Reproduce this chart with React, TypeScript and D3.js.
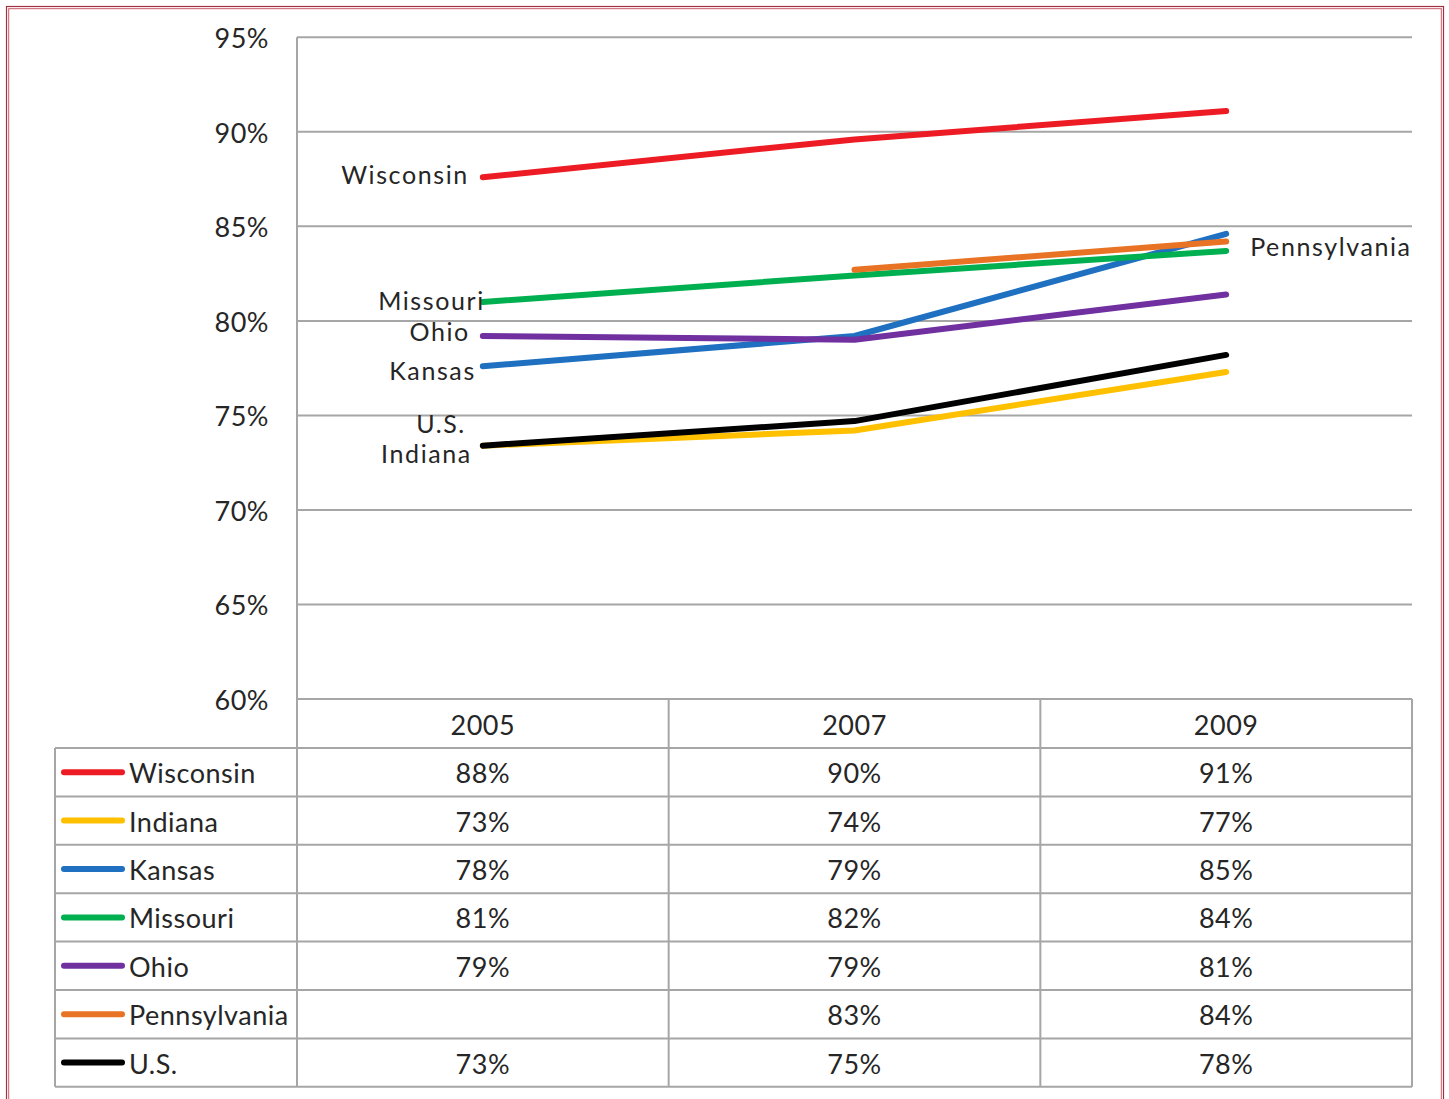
import React from "react";
import * as d3 from "d3";

const years = ["2005", "2007", "2009"];
const seriesNames = ["Wisconsin", "Indiana", "Kansas", "Missouri", "Ohio", "Pennsylvania", "U.S."];
const wisconsin = [87.6, 89.6, 91.1];
const indiana = [73.4, 74.2, 77.3];
const kansas = [77.6, 79.2, 84.6];
const missouri = [81.0, 82.4, 83.7];
const ohio = [79.2, 79.0, 81.4];
const pennsylvania: (number | null)[] = [null, 82.7, 84.2];
const usa = [73.4, 74.7, 78.2];
const yTicks = [60, 65, 70, 75, 80, 85, 90, 95];

const seriesValues: (number | null)[][] = [wisconsin, indiana, kansas, missouri, ohio, pennsylvania, usa];
const seriesColors = ["#ed1c24", "#ffc000", "#1f70c1", "#00b050", "#7030a0", "#e87324", "#000000"];

// label layout (offsets in px relative to the labelled point)
const labelLayout: { idx: number; dx: number; dy: number; anchor: string }[] = [
  { idx: 0, dx: -14, dy: -3, anchor: "end" },
  { idx: 1, dx: -11, dy: 7, anchor: "end" },
  { idx: 2, dx: -7, dy: 4, anchor: "end" },
  { idx: 3, dx: 2, dy: -2, anchor: "end" },
  { idx: 4, dx: -13, dy: -5, anchor: "end" },
  { idx: 5, dx: 24, dy: 5, anchor: "start" },
  { idx: 6, dx: -17, dy: -23, anchor: "end" },
];

const W = 1449;
const H = 1099;
const FONT = "Lato, 'Open Sans', sans-serif";

export default function App() {
  const plotLeft = 297;
  const plotRight = 1412;
  const tableLeft = 55;
  const y = d3.scaleLinear().domain([60, 95]).range([699, 37.3]);
  const x = d3.scaleBand().domain(years).range([plotLeft, plotRight]);
  const cx = (yr: string) => (x(yr) as number) + x.bandwidth() / 2;

  const headerTop = y(60);
  const headerBottom = 748;
  const rowH = 48.4;
  const rowY = (i: number) => headerBottom + i * rowH;
  const tableBottom = rowY(seriesNames.length);

  const line = d3
    .line<{ yr: string; v: number | null }>()
    .defined((d) => d.v != null)
    .x((d) => cx(d.yr))
    .y((d) => y(d.v as number));

  const grid = "#a6a6a6";
  const textColor = "#262626";

  return (
    <svg width={W} height={H} style={{ position: "absolute", left: 0, top: 0, background: "#fff" }}>
      {/* border */}
      <rect x={6.5} y={6.5} width={1437} height={1110} fill="none" stroke="#a3303f" strokeWidth={1.2} />
      <rect x={8.7} y={8.7} width={1432.6} height={1110} fill="none" stroke="#c85a68" strokeWidth={1} />

      {/* gridlines */}
      {yTicks.map((t) => (
        <g key={t}>
          {t !== 60 && (
            <line x1={plotLeft} x2={plotRight} y1={y(t)} y2={y(t)} stroke={grid} strokeWidth={2} />
          )}
          <text
            x={269}
            y={y(t) + 0.5}
            textAnchor="end"
            dominantBaseline="central"
            fontFamily={FONT}
            fontSize={27}
            fill={textColor}
            letterSpacing={0.5}
          >
            {t}%
          </text>
        </g>
      ))}

      {/* axis line */}
      <line x1={plotLeft} x2={plotLeft} y1={y(95)} y2={tableBottom} stroke={grid} strokeWidth={2} />

      {/* table */}
      <line x1={plotLeft} x2={plotRight} y1={headerTop} y2={headerTop} stroke={grid} strokeWidth={2} />
      {seriesNames.map((_, i) => (
        <line key={"r" + i} x1={tableLeft} x2={plotRight} y1={rowY(i)} y2={rowY(i)} stroke={grid} strokeWidth={2} />
      ))}
      <line x1={tableLeft} x2={plotRight} y1={tableBottom} y2={tableBottom} stroke={grid} strokeWidth={2} />
      <line x1={tableLeft} x2={tableLeft} y1={headerBottom} y2={tableBottom} stroke={grid} strokeWidth={2} />
      {years.map((yr) => (
        <line
          key={"c" + yr}
          x1={(x(yr) as number) + x.bandwidth()}
          x2={(x(yr) as number) + x.bandwidth()}
          y1={headerTop}
          y2={tableBottom}
          stroke={grid}
          strokeWidth={2}
        />
      ))}
      {years.map((yr) => (
        <text
          key={"h" + yr}
          x={cx(yr)}
          y={(headerTop + headerBottom) / 2 + 0.5}
          textAnchor="middle"
          dominantBaseline="central"
          fontFamily={FONT}
          fontSize={27}
          fill={textColor}
          letterSpacing={0.5}
        >
          {yr}
        </text>
      ))}
      {seriesNames.map((name, i) => {
        const ym = rowY(i) + rowH / 2;
        return (
          <g key={"row" + name}>
            <line x1={64} x2={122} y1={ym} y2={ym} stroke={seriesColors[i]} strokeWidth={6} strokeLinecap="round" />
            <text
              x={129}
              y={ym + 0.5}
              dominantBaseline="central"
              fontFamily={FONT}
              fontSize={27}
              fill={textColor}
              letterSpacing={0.5}
            >
              {name}
            </text>
            {years.map((yr, j) => {
              const v = seriesValues[i][j];
              if (v == null) return null;
              return (
                <text
                  key={yr}
                  x={cx(yr)}
                  y={ym + 0.5}
                  textAnchor="middle"
                  dominantBaseline="central"
                  fontFamily={FONT}
                  fontSize={27}
                  fill={textColor}
                  letterSpacing={0.5}
                >
                  {Math.round(v)}%
                </text>
              );
            })}
          </g>
        );
      })}

      {/* series lines */}
      {seriesValues.map((vals, i) => (
        <path
          key={"s" + i}
          d={line(years.map((yr, j) => ({ yr, v: vals[j] }))) || ""}
          fill="none"
          stroke={seriesColors[i]}
          strokeWidth={6}
          strokeLinecap="round"
          strokeLinejoin="round"
        />
      ))}

      {/* data labels */}
      {labelLayout.map((l) => {
        const vals = seriesValues[l.idx];
        const j = l.anchor === "start" ? years.length - 1 : 0;
        const v = vals[j] as number;
        return (
          <text
            key={"l" + l.idx}
            x={cx(years[j]) + l.dx}
            y={y(v) + l.dy}
            textAnchor={l.anchor as any}
            dominantBaseline="central"
            fontFamily={FONT}
            fontSize={25}
            fill={textColor}
            letterSpacing={1.6}
          >
            {seriesNames[l.idx]}
          </text>
        );
      })}
    </svg>
  );
}
